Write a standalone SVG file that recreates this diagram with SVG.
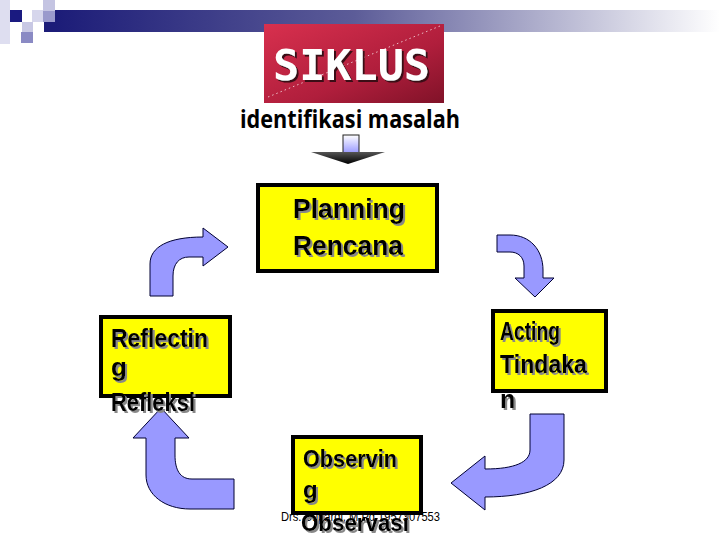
<svg xmlns="http://www.w3.org/2000/svg" width="720" height="540" viewBox="0 0 720 540">
<defs>
<linearGradient id="bar" x1="0" y1="0" x2="1" y2="0">
<stop offset="0" stop-color="#1c1c78"/>
<stop offset="0.45" stop-color="#5c5c98"/>
<stop offset="1" stop-color="#ffffff"/>
</linearGradient>
<linearGradient id="red" x1="0" y1="0" x2="1" y2="1">
<stop offset="0" stop-color="#d8304e"/>
<stop offset="0.6" stop-color="#b01e3c"/>
<stop offset="1" stop-color="#801228"/>
</linearGradient>
<linearGradient id="shaft" x1="0" y1="0" x2="0" y2="1">
<stop offset="0" stop-color="#ffffff"/>
<stop offset="1" stop-color="#9999ff"/>
</linearGradient>
<linearGradient id="head" x1="0" y1="0" x2="0" y2="1">
<stop offset="0" stop-color="#555555"/>
<stop offset="1" stop-color="#000000"/>
</linearGradient>
<filter id="sh" x="-10%" y="-10%" width="130%" height="140%">
<feDropShadow dx="2" dy="2" stdDeviation="0.4" flood-color="#888888"/>
</filter>
<filter id="sh2" x="-10%" y="-10%" width="130%" height="140%">
<feDropShadow dx="2" dy="2" stdDeviation="0.5" flood-color="#3a0a14"/>
</filter>
</defs>
<style>
.box{fill:#ffff00;stroke:#000;stroke-width:4}
.lbl{font-family:"Liberation Sans",Arial,sans-serif;font-weight:bold;fill:#000;filter:url(#sh)}
.arr{fill:#9999ff;stroke:#000033;stroke-width:1}
</style>
<rect width="720" height="540" fill="#ffffff"/>

<g id="decoration">
<rect x="0" y="0" width="10" height="44" fill="#dedef0"/>
<rect x="10" y="10" width="12" height="12" fill="#1a1a80"/>
<rect x="32" y="10" width="11" height="12" fill="#d6d6ec"/>
<rect x="43" y="0" width="12" height="11" fill="#c4c4e2"/>
<rect x="43" y="11" width="12" height="11" fill="#9a9acc"/>
<rect x="22" y="22" width="11" height="10" fill="#c8c8e4"/>
<rect x="21" y="32" width="12" height="11" fill="#8a8ac4"/>
<rect x="44" y="22" width="11" height="10" fill="#1c1c78"/>
<rect x="55" y="10" width="665" height="22" fill="url(#bar)"/>
</g>

<g id="title">
<rect x="264" y="24" width="180" height="79" fill="url(#red)"/>
<line x1="268" y1="97" x2="440" y2="26" stroke="#ffffff" stroke-width="1" stroke-dasharray="1.5 3" opacity="0.7"/>
<text x="273" y="80" font-family="'DejaVu Sans Mono',monospace" font-weight="bold" font-size="42" fill="#ffffff" textLength="157" lengthAdjust="spacingAndGlyphs" filter="url(#sh2)">SIKLUS</text>
</g>

<g id="problem">
<text x="240" y="128" font-family="'Open Sans',sans-serif" font-weight="bold" font-size="25" fill="#000" textLength="220" lengthAdjust="spacingAndGlyphs">identifikasi masalah</text>
</g>

<g id="connectors">
<g id="down-arrow">
<rect x="343" y="135" width="16" height="18" fill="url(#shaft)" stroke="#222" stroke-width="1"/>
<polygon points="311,152 385,152 348,164" fill="url(#head)"/>
</g>
<path id="arrow-plan-act" class="arr" d="M497,235 L510,235 C530,235 543,250 543,270 L543,278 L554,278 L535,297 L515,278 L524,278 L524,266 C524,257 518,252 510,252 L497,252 Z"/>
<path id="arrow-act-obs" class="arr" d="M530,414 L564,414 L564,460 C564,485 530,497 485,497 L485,510 L451,483 L485,456 L485,469 C515,469 530,462 530,450 Z"/>
<path id="arrow-obs-ref" class="arr" d="M161,408 L189,438 L175,438 L175,455 C175,470 180,479 192,479 L234,479 L234,509 L190,509 C165,509 146,495 146,475 L146,438 L133,438 Z"/>
<path id="arrow-ref-plan" class="arr" d="M150,296 L150,264 C150,247 168,237 203,237 L203,228 L228,247 L203,266 L203,257 L189,257 C179,257 173,264 173,276 L173,296 Z"/>
</g>

<g id="planning">
<rect class="box" x="258" y="185" width="179" height="86"/>
<text class="lbl" x="293" y="218" font-size="28" textLength="112" lengthAdjust="spacingAndGlyphs">Planning</text>
<text class="lbl" x="293" y="255" font-size="28" textLength="110" lengthAdjust="spacingAndGlyphs">Rencana</text>
</g>

<g id="acting">
<rect class="box" x="493" y="311" width="113" height="80"/>
<text class="lbl" x="500" y="340" font-size="25" textLength="60" lengthAdjust="spacingAndGlyphs">Acting</text>
<text class="lbl" x="500" y="373" font-size="25" textLength="87" lengthAdjust="spacingAndGlyphs">Tindaka</text>
<text class="lbl" x="500" y="408" font-size="25">n</text>
</g>

<g id="reflecting">
<rect class="box" x="101" y="317" width="129" height="79"/>
<text class="lbl" x="111" y="347" font-size="26" textLength="97" lengthAdjust="spacingAndGlyphs">Reflectin</text>
<text class="lbl" x="111" y="376" font-size="26">g</text>
<text class="lbl" x="111" y="411" font-size="26" textLength="84" lengthAdjust="spacingAndGlyphs">Refleksi</text>
</g>

<g id="footer">
<text x="281" y="521" font-family="'Liberation Sans',Arial,sans-serif" font-size="13" fill="#000" textLength="159" lengthAdjust="spacingAndGlyphs">Drs. Supardi, M.Pd 1957307553</text>
</g>

<g id="observing">
<rect class="box" x="293" y="437" width="128" height="76"/>
<text class="lbl" x="303" y="467" font-size="24" textLength="94" lengthAdjust="spacingAndGlyphs">Observin</text>
<text class="lbl" x="303" y="498" font-size="24">g</text>
<text class="lbl" x="301" y="531" font-size="24" textLength="108" lengthAdjust="spacingAndGlyphs">Observasi</text>
</g>
</svg>
